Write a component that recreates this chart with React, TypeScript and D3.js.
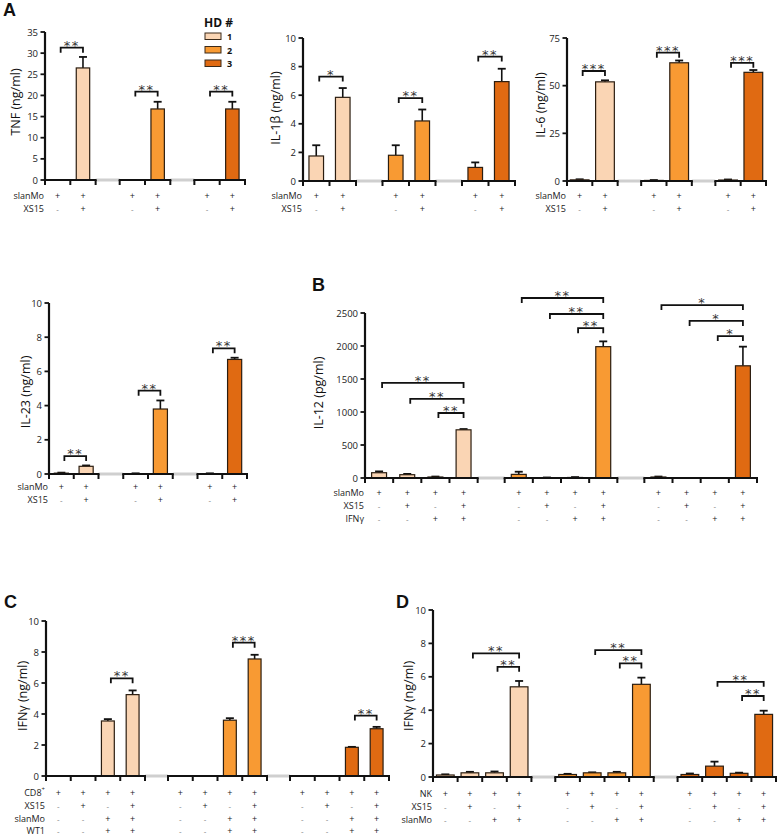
import React from "react";
import * as d3 from "d3";

// ---------- DATA ----------
const hdLabels = ["1", "2", "3"];
const hdColors = ["#FAD5B4", "#F89A33", "#E06A12"];

// Panel A – TNF (ng/ml)
const tnfMean = [[0, 26.5], [0, 16.8], [0, 16.8]];
const tnfTop = [[0, 29.1], [0, 18.5], [0, 18.5]];
const tnfSig = [
  { g: 0, from: 0, to: 1, level: 31.3, label: "**" },
  { g: 1, from: 0, to: 1, level: 20.9, label: "**" },
  { g: 2, from: 0, to: 1, level: 20.9, label: "**" },
];
// IL-1β
const il1Mean = [[1.75, 5.85], [1.8, 4.2], [0.95, 6.95]];
const il1Top = [[2.5, 6.5], [2.5, 5.0], [1.3, 7.85]];
const il1Sig = [
  { g: 0, from: 0, to: 1, level: 7.3, label: "*" },
  { g: 1, from: 0, to: 1, level: 5.8, label: "**" },
  { g: 2, from: 0, to: 1, level: 8.7, label: "**" },
];
// IL-6
const il6Mean = [[0.6, 52], [0.3, 62], [0.5, 57]];
const il6Top = [[0.9, 52.8], [0.5, 63.2], [0.8, 58.2]];
const il6Sig = [
  { g: 0, from: 0, to: 1, level: 57.7, label: "***" },
  { g: 1, from: 0, to: 1, level: 67.3, label: "***" },
  { g: 2, from: 0, to: 1, level: 62, label: "***" },
];
// IL-23
const il23Mean = [[0.05, 0.45], [0.02, 3.8], [0.02, 6.7]];
const il23Top = [[0.08, 0.5], [0.04, 4.3], [0.04, 6.8]];
const il23Sig = [
  { g: 0, from: 0, to: 1, level: 1.05, label: "**" },
  { g: 1, from: 0, to: 1, level: 4.87, label: "**" },
  { g: 2, from: 0, to: 1, level: 7.35, label: "**" },
];
const rowsA = ["slanMo", "XS15"];
const signsA = [["+", "+"], ["-", "+"]];

// Panel B – IL-12 (pg/ml)
const il12Mean = [[80, 50, 15, 730], [55, 5, 8, 1990], [15, 0, 0, 1700]];
const il12Top = [[100, 62, 22, 742], [95, 8, 14, 2070], [22, 0, 0, 1990]];
const il12Sig = [
  { g: 0, from: 0, to: 3, level: 1440, label: "**" },
  { g: 0, from: 1, to: 3, level: 1200, label: "**" },
  { g: 0, from: 2, to: 3, level: 985, label: "**" },
  { g: 1, from: 0, to: 3, level: 2727, label: "**" },
  { g: 1, from: 1, to: 3, level: 2485, label: "**" },
  { g: 1, from: 2, to: 3, level: 2270, label: "**" },
  { g: 2, from: 0, to: 3, level: 2620, label: "*" },
  { g: 2, from: 1, to: 3, level: 2380, label: "*" },
  { g: 2, from: 2, to: 3, level: 2150, label: "*" },
];
const rowsB = ["slanMo", "XS15", "IFNγ"];
const signsB = [["+", "+", "+", "+"], ["-", "+", "-", "+"], ["-", "-", "+", "+"]];

// Panel C – IFNγ (ng/ml), CD8+
const ifnCMean = [[0, 0, 3.55, 5.25], [0, 0, 3.6, 7.55], [0, 0, 1.85, 3.05]];
const ifnCTop = [[0, 0, 3.67, 5.52], [0, 0, 3.73, 7.82], [0, 0, 1.88, 3.17]];
const ifnCSig = [
  { g: 0, from: 2, to: 3, level: 6.3, label: "**" },
  { g: 1, from: 2, to: 3, level: 8.6, label: "***" },
  { g: 2, from: 2, to: 3, level: 3.9, label: "**" },
];
const rowsC = ["CD8⁺", "XS15", "slanMo", "WT1"];
const signsC = [["+", "+", "+", "+"], ["-", "+", "-", "+"], ["-", "-", "+", "+"], ["-", "-", "+", "+"]];

// Panel D – IFNγ (ng/ml), NK
const ifnDMean = [[0.12, 0.25, 0.25, 5.4], [0.15, 0.25, 0.25, 5.55], [0.15, 0.65, 0.22, 3.75]];
const ifnDTop = [[0.16, 0.31, 0.33, 5.75], [0.19, 0.28, 0.31, 5.95], [0.21, 0.92, 0.26, 3.97]];
const ifnDSig = [
  { g: 0, from: 1, to: 3, level: 7.4, label: "**" },
  { g: 0, from: 2, to: 3, level: 6.6, label: "**" },
  { g: 1, from: 1, to: 3, level: 7.6, label: "**" },
  { g: 1, from: 2, to: 3, level: 6.8, label: "**" },
  { g: 2, from: 1, to: 3, level: 5.7, label: "**" },
  { g: 2, from: 2, to: 3, level: 4.85, label: "**" },
];
const rowsD = ["NK", "XS15", "slanMo"];
const signsD = [["+", "+", "+", "+"], ["-", "+", "-", "+"], ["-", "-", "+", "+"]];

// ---------- LAYOUT ----------
const FONT = "'Open Sans', 'Noto Sans', sans-serif";

type Sig = { g: number; from: number; to: number; level: number; label: string };
type PanelProps = {
  mean: number[][];
  top: number[][];
  sig: Sig[];
  rows: string[];
  signs: string[][];
  yTitle: string;
  yMax: number;
  yStep: number;
  axisX: number;
  axisEnd: number;
  yTop: number;
  yBottom: number;
  gapUnits: number;
  barRatio: number;
  titleX: number;
  titleY: number;
  rowY: number[];
};

function Panel(p: PanelProps) {
  const slots = p.mean[0].length;
  const nG = p.mean.length;
  const total = nG * slots + (nG - 1) * p.gapUnits;
  const x = d3.scaleLinear().domain([0, total]).range([p.axisX, p.axisEnd]);
  const y = d3.scaleLinear().domain([0, p.yMax]).range([p.yBottom, p.yTop]);
  const gStart = (g: number) => g * (slots + p.gapUnits);
  const cx = (g: number, s: number) => x(gStart(g) + s + 0.5);
  const slotW = x(1) - x(0);
  const bw = slotW * p.barRatio;
  const ticks = d3.range(0, p.yMax + p.yStep / 2, p.yStep);
  const y0 = y(0);

  return (
    <g>
      {d3.range(nG - 1).map((g) => (
        <line key={"gr" + g} x1={x(gStart(g) + slots)} x2={x(gStart(g + 1))} y1={y0} y2={y0}
          stroke="#cfcfcf" strokeWidth={3} />
      ))}
      {p.mean.map((grp, g) =>
        grp.map((v, s) => {
          const c = cx(g, s);
          const t = p.top[g][s];
          return (
            <g key={`b${g}-${s}`}>
              {t > v && (
                <>
                  <line x1={c} x2={c} y1={y(v)} y2={y(t)} stroke="#111" strokeWidth={1.6} />
                  <line x1={c - 4} x2={c + 4} y1={y(t)} y2={y(t)} stroke="#111" strokeWidth={1.8} />
                </>
              )}
              {v > 0 && (
                <rect x={c - bw / 2} y={y(v)} width={bw} height={y0 - y(v)}
                  fill={hdColors[g]} stroke="#2b1d10" strokeWidth={1.2} />
              )}
            </g>
          );
        })
      )}
      {d3.range(nG).map((g) => (
        <g key={"ax" + g}>
          <line x1={x(gStart(g)) - 1} x2={x(gStart(g) + slots) + 1} y1={y0} y2={y0} stroke="#111" strokeWidth={2.2} />
          {d3.range(slots + 1).map((k) => (
            <line key={k} x1={x(gStart(g) + k)} x2={x(gStart(g) + k)} y1={y0} y2={y0 + 5}
              stroke="#111" strokeWidth={2} />
          ))}
        </g>
      ))}
      <line x1={p.axisX} x2={p.axisX} y1={p.yTop} y2={y0} stroke="#111" strokeWidth={2.2} />
      {ticks.map((t) => (
        <g key={"yt" + t}>
          <line x1={p.axisX - 4.5} x2={p.axisX} y1={y(t)} y2={y(t)} stroke="#111" strokeWidth={1.8} />
          <text x={p.axisX - 7} y={y(t)} textAnchor="end" dominantBaseline="central"
            fontSize={9.5} fontFamily={FONT} fill="#222">{t}</text>
        </g>
      ))}
      <text transform={`translate(${p.titleX},${p.titleY}) rotate(-90)`} textAnchor="middle"
        dominantBaseline="central" fontSize={12.5} fontFamily={FONT} fill="#111">{p.yTitle}</text>
      {p.sig.map((b, i) => {
        const x1 = cx(b.g, b.from) + 3;
        const x2 = cx(b.g, b.to);
        const yy = y(b.level);
        return (
          <g key={"s" + i}>
            <path d={`M${x1},${yy + 5}V${yy}H${x2}V${yy + 5}`} fill="none" stroke="#111" strokeWidth={1.8} />
            <text x={(x1 + x2) / 2} y={yy + 2} textAnchor="middle" fontSize={13}
              letterSpacing={1.5} fontFamily="'DejaVu Sans', sans-serif" fill="#333">{b.label}</text>
          </g>
        );
      })}
      {p.rows.map((r, ri) => (
        <g key={"r" + ri}>
          <text x={p.axisX - 1} y={p.rowY[ri]} textAnchor="end" dominantBaseline="central"
            fontSize={9} fontFamily={FONT} fill="#222">
            {r === "CD8⁺" ? (<>CD8<tspan fontSize={6} dy={-3}>+</tspan></>) : r}
          </text>
          {d3.range(nG).map((g) =>
            p.signs[ri].map((sg, s) => (
              <text key={`${g}-${s}`} x={cx(g, s)} y={p.rowY[ri]} textAnchor="middle" dominantBaseline="central"
                fontSize={sg === "+" ? 9 : 8} fontFamily={FONT} fill={sg === "+" ? "#222" : "#777"}>{sg}</text>
            ))
          )}
        </g>
      ))}
    </g>
  );
}

function Letter({ x, y, t }: { x: number; y: number; t: string }) {
  return (
    <text x={x} y={y} fontSize={18} fontWeight="bold" fontFamily="'Liberation Sans', Arial, sans-serif" fill="#111">{t}</text>
  );
}

export default function App() {
  return (
    <svg width={778} height={836} style={{ position: "absolute", left: 0, top: 0, background: "#fff" }}>
      <Letter x={3} y={16} t="A" />
      <Letter x={312} y={291} t="B" />
      <Letter x={4} y={608} t="C" />
      <Letter x={396} y={608} t="D" />

      <text x={204} y={27} fontSize={12} fontWeight="bold" fontFamily={FONT} fill="#111">HD #</text>
      {hdLabels.map((l, i) => (
        <g key={l}>
          <rect x={205} y={33 + i * 13.5} width={16} height={6.5} fill={hdColors[i]} stroke="#3a2a1a" strokeWidth={1} />
          <text x={227} y={36.5 + i * 13.5} dominantBaseline="central" fontSize={9} fontWeight="bold" fontFamily={FONT} fill="#111">{l}</text>
        </g>
      ))}

      <Panel mean={tnfMean} top={tnfTop} sig={tnfSig} rows={rowsA} signs={signsA} yTitle="TNF (ng/ml)"
        yMax={35} yStep={5} axisX={45} axisEnd={245} yTop={32} yBottom={180} gapUnits={0.95} barRatio={0.53}
        titleX={15} titleY={102} rowY={[195, 208]} />
      <Panel mean={il1Mean} top={il1Top} sig={il1Sig} rows={rowsA} signs={signsA} yTitle="IL-1β (ng/ml)"
        yMax={10} yStep={2} axisX={303} axisEnd={515} yTop={38} yBottom={181} gapUnits={1.0} barRatio={0.55}
        titleX={275} titleY={108} rowY={[195, 208]} />
      <Panel mean={il6Mean} top={il6Top} sig={il6Sig} rows={rowsA} signs={signsA} yTitle="IL-6 (ng/ml)"
        yMax={75} yStep={25} axisX={567} axisEnd={766} yTop={38} yBottom={181} gapUnits={0.93} barRatio={0.74}
        titleX={540} titleY={105} rowY={[195, 208]} />
      <Panel mean={il23Mean} top={il23Top} sig={il23Sig} rows={rowsA} signs={signsA} yTitle="IL-23 (ng/ml)"
        yMax={10} yStep={2} axisX={49} axisEnd={247} yTop={303} yBottom={474} gapUnits={1.0} barRatio={0.57}
        titleX={25} titleY={392} rowY={[486, 499]} />
      <Panel mean={il12Mean} top={il12Top} sig={il12Sig} rows={rowsB} signs={signsB} yTitle="IL-12 (pg/ml)"
        yMax={2500} yStep={500} axisX={365} axisEnd={757} yTop={313} yBottom={478} gapUnits={0.96} barRatio={0.53}
        titleX={318} titleY={393} rowY={[492, 505, 518]} />
      <Panel mean={ifnCMean} top={ifnCTop} sig={ifnCSig} rows={rowsC} signs={signsC} yTitle="IFNγ (ng/ml)"
        yMax={10} yStep={2} axisX={46} axisEnd={389} yTop={621} yBottom={776} gapUnits={0.93} barRatio={0.52}
        titleX={22} titleY={696} rowY={[792, 805, 818, 830]} />
      <Panel mean={ifnDMean} top={ifnDTop} sig={ifnDSig} rows={rowsD} signs={signsD} yTitle="IFNγ (ng/ml)"
        yMax={10} yStep={2} axisX={433} axisEnd={776} yTop={610} yBottom={777} gapUnits={0.97} barRatio={0.72}
        titleX={408} titleY={696} rowY={[793, 806, 819]} />
    </svg>
  );
}
